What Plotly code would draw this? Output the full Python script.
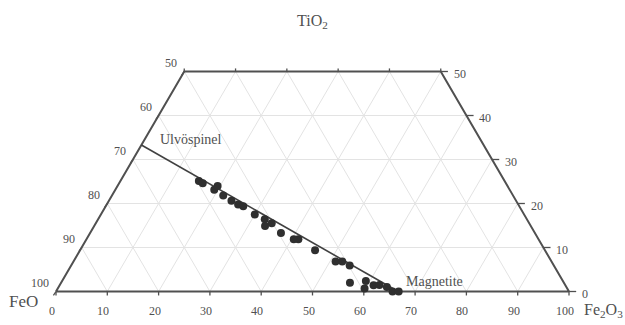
import numpy as np
import plotly.graph_objects as go

# ---------------- data (cation %) ----------------
tio2 = [25.1, 24.6, 23.1, 24.0, 21.8, 20.6, 19.8, 19.4, 17.5, 16.4, 15.5, 14.9, 13.3,
        11.9, 11.9, 9.4, 6.8, 6.8, 5.9, 2.0, 0.7, 2.4, 1.4, 1.5, 1.0, 0.0, 0.0]
fe2o3 = [15.3, 16.3, 19.3, 19.5, 21.7, 23.9, 25.6, 26.8, 30.0, 32.5, 34.3, 33.3, 37.2,
         41.3, 40.4, 45.8, 51.1, 52.4, 54.3, 56.3, 59.8, 59.2, 61.2, 62.3, 64.0, 65.6, 66.8]
feo = [round(100 - t - f, 1) for t, f in zip(tio2, fe2o3)]

# end members (TiO2, Fe2O3)
ulvo = (33.3, 0.0)
magn = (0.0, 66.7)

tio2_max = 50
bottom_ticks = [0, 10, 20, 30, 40, 50, 60, 70, 80, 90, 100]   # Fe2O3
left_ticks = [50, 60, 70, 80, 90, 100]                          # FeO
right_ticks = [0, 10, 20, 30, 40, 50]                           # TiO2
grid_step = 10

FONT = "Liberation Serif"
TXT = "#505050"


def xy(t, f):
    t = np.asarray(t, float)
    f = np.asarray(f, float)
    return f + t / 2.0, t


fig = go.Figure()

# ---------------- grid ----------------
gx, gy = [], []
for t in range(grid_step, tio2_max, grid_step):
    x, y = xy([t, t], [0, 100 - t]); gx += list(x) + [None]; gy += list(y) + [None]
for f in range(grid_step, 100, grid_step):
    tt = min(tio2_max, 100 - f)
    x, y = xy([0, tt], [f, f]); gx += list(x) + [None]; gy += list(y) + [None]
for g in range(grid_step, 100, grid_step):  # constant FeO
    tt = min(tio2_max, 100 - g)
    x, y = xy([0, tt], [100 - g, 100 - g - tt]); gx += list(x) + [None]; gy += list(y) + [None]
fig.add_trace(go.Scatter(x=gx, y=gy, mode="lines", line=dict(color="#e3e3e3", width=1),
                         hoverinfo="skip", showlegend=False))

# ---------------- frame ----------------
fx, fy = xy([0, tio2_max, tio2_max, 0, 0], [0, 0, 100 - tio2_max, 100, 0])
fig.add_trace(go.Scatter(x=fx, y=fy, mode="lines", line=dict(color="#505050", width=2),
                         hoverinfo="skip", showlegend=False))

# ---------------- ticks ----------------
tx, ty = [], []
for f in bottom_ticks:
    x, y = xy(0, f); tx += [x, x, None]; ty += [y, y - 0.9, None]
for g in left_ticks:
    x, y = xy(100 - g, 0); tx += [x, x - 0.5, None]; ty += [y, y - 0.9, None]
for t in right_ticks:
    x, y = xy(t, 100 - t); tx += [x, x + 1.4, None]; ty += [y, y, None]
for f in range(0, 100 - tio2_max + 1, grid_step):
    x, y = xy(tio2_max, f); tx += [x, x, None]; ty += [y, y + 0.7, None]
fig.add_trace(go.Scatter(x=tx, y=ty, mode="lines", line=dict(color="#505050", width=1.3),
                         hoverinfo="skip", showlegend=False))

# ---------------- ulvospinel-magnetite join ----------------
lx, ly = xy([ulvo[0], magn[0]], [ulvo[1], magn[1]])
fig.add_trace(go.Scatter(x=lx, y=ly, mode="lines", line=dict(color="#404040", width=1.6),
                         hoverinfo="skip", showlegend=False))

# ---------------- data ----------------
px_, py_ = xy(tio2, fe2o3)
fig.add_trace(go.Scatter(x=px_, y=py_, mode="markers",
                         marker=dict(size=8, color="#2f2f2f", line=dict(width=0)),
                         customdata=np.c_[feo, fe2o3, tio2],
                         hovertemplate="FeO %{customdata[0]}<br>Fe2O3 %{customdata[1]}<br>TiO2 %{customdata[2]}<extra></extra>",
                         showlegend=False))

ann = []
for f in bottom_ticks:
    x, y = xy(0, f)
    ann.append(dict(x=float(x), y=float(y), text=str(f), showarrow=False, xshift=-4, yshift=-19,
                    font=dict(size=12, family=FONT, color=TXT)))
for g in left_ticks:
    x, y = xy(100 - g, 0)
    ann.append(dict(x=float(x), y=float(y), text=str(g), showarrow=False, xanchor="right",
                    xshift=-5, yshift=9, font=dict(size=12, family=FONT, color=TXT)))
for t in right_ticks:
    x, y = xy(t, 100 - t)
    ann.append(dict(x=float(x), y=float(y), text=str(t), showarrow=False, xanchor="left",
                    xshift=11, yshift=-2, font=dict(size=12, family=FONT, color=TXT)))

x, y = xy(tio2_max, 100 - tio2_max - 25)
ann.append(dict(x=float(x), y=float(y), text="TiO<sub>2</sub>", showarrow=False, yshift=50,
                font=dict(size=16, family=FONT, color=TXT)))
x, y = xy(0, 0)
ann.append(dict(x=float(x), y=float(y), text="FeO", showarrow=False, xanchor="right", xshift=-16,
                yshift=-10, font=dict(size=17, family=FONT, color=TXT)))
x, y = xy(0, 100)
ann.append(dict(x=float(x), y=float(y), text="Fe<sub>2</sub>O<sub>3</sub>", showarrow=False,
                xanchor="left", xshift=13, yshift=-19, font=dict(size=16, family=FONT, color=TXT)))
x, y = xy(*ulvo)
ann.append(dict(x=float(x), y=float(y), text="Ulvöspinel", showarrow=False, xanchor="left",
                xshift=17, yshift=5, font=dict(size=14, family=FONT, color=TXT)))
x, y = xy(*magn)
ann.append(dict(x=float(x), y=float(y), text="Magnetite", showarrow=False, xanchor="left",
                xshift=6, yshift=10, font=dict(size=14, family=FONT, color=TXT)))

SX, SY = 5.13, 4.4
X0, Y0 = 56, 291.5
fig.update_layout(
    width=625, height=325, margin=dict(l=0, r=0, t=0, b=0),
    paper_bgcolor="white", plot_bgcolor="white",
    xaxis=dict(range=[-X0 / SX, (625 - X0) / SX], visible=False, fixedrange=True),
    yaxis=dict(range=[-(325 - Y0) / SY, Y0 / SY], visible=False, fixedrange=True),
    annotations=ann, showlegend=False,
)
fig.write_html("out.html")
